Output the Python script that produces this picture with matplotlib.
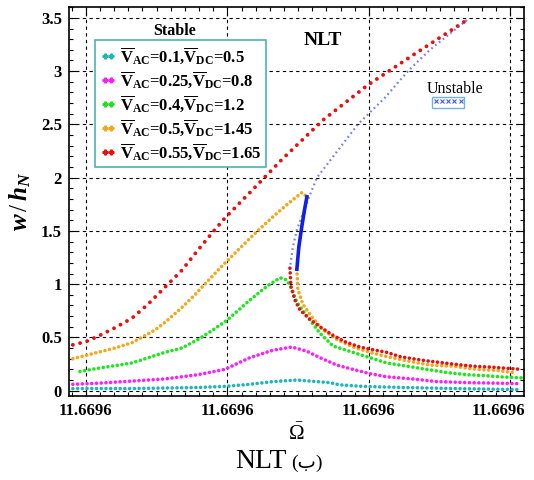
import matplotlib
matplotlib.use("Agg")
import matplotlib.pyplot as plt
from matplotlib.lines import Line2D
from matplotlib.ticker import AutoMinorLocator, FixedLocator
from matplotlib.transforms import ScaledTranslation

plt.rcParams['font.family'] = ['Liberation Serif', 'DejaVu Sans']
plt.rcParams['mathtext.fontset'] = 'custom'
plt.rcParams['mathtext.rm'] = 'Liberation Serif'
plt.rcParams['mathtext.bf'] = 'Liberation Serif:bold'
plt.rcParams['mathtext.it'] = 'Liberation Serif:italic:bold'

# frequency axis in grid units (each major step shows as 11.6696)
omega_ticks = [0, 1, 2, 3]
omega_tick_labels = ['11.6696', '11.6696', '11.6696', '11.6696']

# stable branches, V_AC = 0.1 / V_DC = 0.5
cyan_x = [-0.092, 0.325, 0.792, 0.982, 1.159, 1.322, 1.491, 1.633, 1.724, 1.795, 1.958, 2.240, 2.594, 3.067]
cyan_y = [0.02, 0.02, 0.03, 0.04, 0.06, 0.085, 0.10, 0.085, 0.075, 0.055, 0.04, 0.03, 0.02, 0.01]

# V_AC = 0.25 / V_DC = 0.8
mag_x = [-0.092, 0.085, 0.325, 0.558, 0.792, 0.982, 1.159, 1.322, 1.456, 1.562, 1.654, 1.774, 1.887, 2.007, 2.127, 2.311, 2.481, 2.714, 2.926, 3.067]
mag_y = [0.06, 0.07, 0.09, 0.11, 0.15, 0.20, 0.31, 0.38, 0.41, 0.37, 0.31, 0.24, 0.20, 0.16, 0.13, 0.11, 0.085, 0.075, 0.07, 0.065]

# V_AC = 0.4 / V_DC = 1.2
green_x = [-0.042, 0.085, 0.325, 0.558, 0.678, 0.792, 0.898, 0.996, 1.159, 1.279, 1.371, 1.420, 1.456, 1.491, 1.562,
           1.654, 1.746, 1.887, 2.007, 2.127, 2.269, 2.410, 2.551, 2.693, 2.834, 2.926, 3.081]
green_y = [0.18, 0.21, 0.26, 0.36, 0.40, 0.48, 0.57, 0.66, 0.85, 0.98, 1.06, 1.04, 0.95, 0.83, 0.70,
           0.54, 0.42, 0.36, 0.31, 0.26, 0.23, 0.20, 0.17, 0.15, 0.14, 0.13, 0.12]

# V_AC = 0.5 / V_DC = 1.45 (upper and lower stable parts)
orange_up_x = [-0.092, 0.085, 0.205, 0.325, 0.396, 0.488, 0.558, 0.678, 0.770, 0.841, 0.947, 1.053, 1.159, 1.230, 1.336, 1.442, 1.527, 1.562]
orange_up_y = [0.30, 0.36, 0.40, 0.45, 0.50, 0.57, 0.64, 0.78, 0.90, 1.00, 1.15, 1.29, 1.43, 1.52, 1.65, 1.77, 1.86, 1.82]
orange_lo_x = [1.491, 1.498, 1.534, 1.604, 1.668, 1.774, 1.887, 2.007, 2.127, 2.269, 2.431, 2.594, 2.763, 2.905, 3.018]
orange_lo_y = [1.14, 0.95, 0.81, 0.68, 0.58, 0.48, 0.41, 0.36, 0.32, 0.28, 0.24, 0.23, 0.20, 0.19, 0.17]

# V_AC = 0.55 / V_DC = 1.65
red_up_x = [-0.092, 0.0, 0.085, 0.205, 0.325, 0.438, 0.558, 0.678, 0.792, 0.898, 0.982, 1.159, 1.385, 1.675, 1.993, 2.311, 2.693]
red_up_y = [0.43, 0.46, 0.51, 0.59, 0.68, 0.81, 0.97, 1.13, 1.32, 1.49, 1.62, 1.86, 2.17, 2.54, 2.87, 3.15, 3.48]
red_lo_x = [1.442, 1.449, 1.477, 1.512, 1.583, 1.654, 1.746, 1.830, 1.936, 2.007, 2.127, 2.219, 2.311, 2.410, 2.594, 2.735, 2.876, 2.975, 3.081]
red_lo_y = [1.15, 0.98, 0.85, 0.76, 0.67, 0.60, 0.52, 0.46, 0.41, 0.39, 0.36, 0.32, 0.30, 0.28, 0.25, 0.23, 0.22, 0.21, 0.20]

# unstable branches
unst_red_x = [2.693, 2.431, 2.276, 2.113, 1.922, 1.633, 1.569, 1.491, 1.463, 1.442]
unst_red_y = [3.48, 3.20, 3.00, 2.75, 2.50, 2.00, 1.79, 1.51, 1.35, 1.15]
unst_orange_x = [1.562, 1.548, 1.527, 1.505, 1.491]
unst_orange_y = [1.82, 1.72, 1.55, 1.35, 1.14]

v_ac = ['0.1', '0.25', '0.4', '0.5', '0.55']
v_dc = ['0.5', '0.8', '1.2', '1.45', '1.65']
colors = ['#1cb8b8', '#ff1cff', '#1ee61e', '#f2a81c', '#e8100e']

fig = plt.figure(figsize=(5.34, 4.80), dpi=100)
ax = fig.add_axes([0.129, 0.175, 0.852, 0.81])

dots = dict(linestyle=(0, (0.01, 1.3)), dash_capstyle='round', linewidth=2.6)
ax.plot(cyan_x, cyan_y, color=colors[0], **dots)
ax.plot(mag_x, mag_y, color=colors[1], **dots)
ax.plot(green_x, green_y, color=colors[2], **dots)
ax.plot(orange_up_x, orange_up_y, color=colors[3], **dots)
ax.plot(orange_lo_x, orange_lo_y, color=colors[3], **dots)
ax.plot(red_lo_x, red_lo_y, color=colors[4], **dots)
ax.plot(red_up_x, red_up_y, color=colors[4], linestyle=(0, (0.01, 1.9)), dash_capstyle='round', linewidth=2.8)

ax.plot(unst_red_x, unst_red_y, color='#4a5ad8', alpha=0.75, linewidth=1.6,
        linestyle=(0, (0.8, 1.4)))
ax.plot(unst_orange_x, unst_orange_y, color='#1020e8', linewidth=2.6)

ax.set_xlim(-0.12, 3.095)
ax.set_ylim(-0.05, 3.6)
ax.xaxis.set_major_locator(FixedLocator(omega_ticks))
ax.set_xticklabels(omega_tick_labels)
ax.set_yticks([0, 0.5, 1, 1.5, 2, 2.5, 3, 3.5])
ax.set_yticklabels(['0', '0.5', '1', '1.5', '2', '2.5', '3', '3.5'])
ax.xaxis.set_minor_locator(AutoMinorLocator(10))
ax.yaxis.set_minor_locator(AutoMinorLocator(5))
ax.tick_params(which='both', direction='in', top=True, right=True, width=0.8)
ax.tick_params(which='major', length=6, labelsize=12, pad=5)
ax.tick_params(which='minor', length=3)
for lab in ax.get_xticklabels() + ax.get_yticklabels():
    lab.set_fontweight('bold')
# keep the last frequency label inside the figure
last = ax.get_xticklabels()[-1]
last.set_transform(last.get_transform() + ScaledTranslation(-0.12, 0, fig.dpi_scale_trans))
for sp in ax.spines.values():
    sp.set_linewidth(1.2)
ax.grid(True, which='major', color='black', linestyle=(0, (3, 3)), linewidth=0.8)

ax.set_xlabel(r'$\bar{\Omega}$', fontsize=15, labelpad=3)
ax.set_ylabel(r'$w\,/\,h_N$', fontsize=18, labelpad=6)

labels = [r'$\overline{\mathbf{V}}_{\mathbf{AC}}$=' + a + r',$\overline{\mathbf{V}}_{\mathbf{DC}}$=' + d
          for a, d in zip(v_ac, v_dc)]
handles = [Line2D([], [], color=c, marker='P', markersize=3.5, linestyle='none') for c in colors]
leg = ax.legend(handles, labels, loc='upper left', bbox_to_anchor=(0.057, 0.915), borderaxespad=0,
                numpoints=2, handlelength=1.0, handletextpad=0.2, labelspacing=0.18,
                borderpad=0.3, prop={'size': 12, 'weight': 'bold'}, fancybox=False, framealpha=1)
leg.get_frame().set_edgecolor('#4cb3b3')
leg.get_frame().set_linewidth(1.2)
ax.add_artist(leg)

unst = Line2D([], [], color='#4a5ad8', marker='x', markersize=2.5, markeredgewidth=0.8, linestyle='none')
leg2 = ax.legend([unst], [''], loc='upper left', bbox_to_anchor=(0.798, 0.769), borderaxespad=0,
                 numpoints=5, handlelength=3.6, handletextpad=0, borderpad=0.15, fancybox=False,
                 fontsize=6, framealpha=1)
leg2.get_frame().set_edgecolor('#6fb4dc')
leg2.get_frame().set_linewidth(1.0)

ax.text(0.233, 0.938, 'Stable', transform=ax.transAxes, ha='center', va='center', fontsize=11.5, fontweight='bold')
ax.text(0.848, 0.789, 'Unstable', transform=ax.transAxes, ha='center', va='center', fontsize=11.5)
ax.text(0.558, 0.915, 'NLT', transform=ax.transAxes, ha='center', va='center', fontsize=14, fontweight='bold')

fig.text(287 / 534, 1 - 462 / 480, 'NLT', ha='right', va='center', fontsize=20)
fig.text(291 / 534, 1 - 463 / 480, '(ب)', ha='left', va='center', fontsize=14)

fig.savefig('out.png', dpi=100)
